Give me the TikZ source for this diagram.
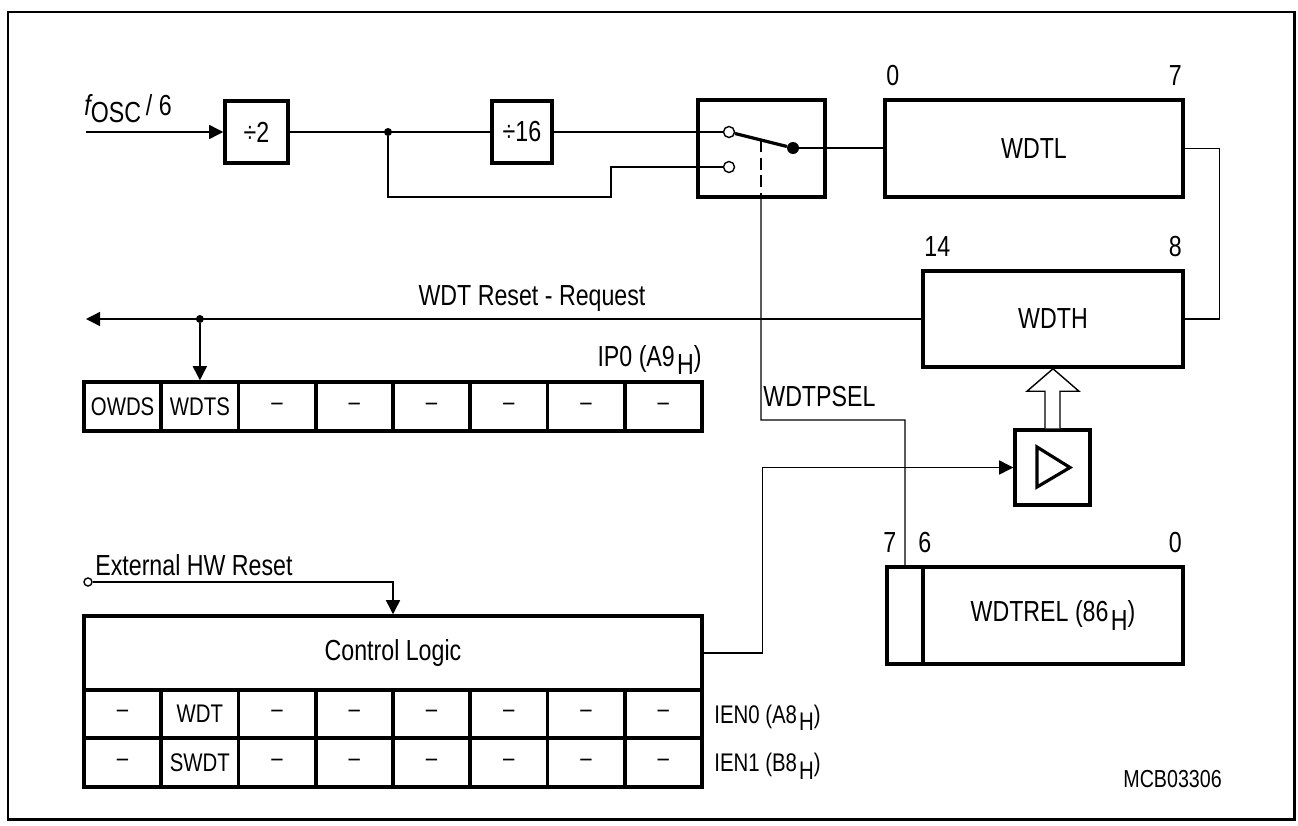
\documentclass[tikz,border=0pt]{standalone}
\usepackage{fontspec}
\setmainfont[FakeStretch=0.8]{Liberation Sans}
\usetikzlibrary{arrows.meta,calc}
\newcommand{\lowH}{\kern0.08em\raisebox{-0.3em}{H}}

\begin{document}
\begin{tikzpicture}[x=0.02cm,y=-0.02cm,
        font=\fontsize{16.5}{19}\selectfont,
        wire/.style={line width=0.8pt},
        blk/.style={draw,line width=2pt,inner sep=0pt},
        cell/.style={blk,minimum width=1.545cm,minimum height=0.98cm,font=\fontsize{14.5}{17}\selectfont},
        small/.style={font=\fontsize{14.5}{17}\selectfont},
        contact/.style={circle,draw,line width=0.8pt,fill=white,inner sep=0pt,minimum size=0.22cm},
        jdot/.style={circle,fill,inner sep=0pt,minimum size=0.16cm},
        lbl/.style={inner sep=0pt},
        >={Triangle[length=8pt,width=8pt]}]
        \useasboundingbox (0,0) rectangle (1298,825);
        \draw[line width=1.7pt] (8,12) rectangle (1294,819);

        % prescaler and switch
        \coordinate (fin) at (86,132);
        \node[lbl,anchor=base west] (fosc) at (84,115) {\itshape f\upshape\raisebox{-4.5pt}{OSC}\,/ 6};
        \node[blk,minimum width=1.26cm,minimum height=1.24cm] (div2) at (256.5,132) {÷2};
        \node[blk,minimum width=1.2cm,minimum height=1.24cm] (div16) at (522,132) {÷16};
        \node[blk,minimum width=2.54cm,minimum height=1.94cm] (sw) at (761.5,148.5) {};
        \node[jdot] (j1) at (388,132) {};
        \node[contact] (up) at (729,132) {};
        \node[contact] (lo) at (729,167) {};
        \node[jdot,minimum size=0.24cm] (piv) at (793,148) {};
        \draw[wire,->] (fin) -- (div2.west);
        \draw[wire] (div2.east) -- (div16.west);
        \draw[wire] (div16.east) -- (up);
        \draw[wire] (j1) -- ++(0,65) -| ++(223,-30) -- (lo);
        \draw[line width=1.8pt] (up) -- (piv);

        % counter registers
        \node[blk,minimum width=5.96cm,minimum height=1.94cm] (wdtl) at (1034,148.5) {WDTL};
        \node[blk,minimum width=5.2cm,minimum height=1.92cm] (wdth) at (1053,319) {WDTH};
        \node[lbl,anchor=base west] (l0) at (886,85) {0};
        \node[lbl,anchor=base east] (l7) at (1182,85) {7};
        \node[lbl,anchor=base west] (l14) at (924,256) {14};
        \node[lbl,anchor=base east] (l8) at (1182,256) {8};
        \draw[wire] (piv) -- (piv -| wdtl.west);
        \draw[wire] (wdtl.east) -- ++(35,0) |- (wdth.east);

        % reset request and IP0
        \coordinate (rqend) at (86,319);
        \foreach \t [count=\i] in {OWDS,WDTS,–,–,–,–,–,–}
            \node[cell] (ip\i) at ({84+77.25*(\i-0.5)},406.5) {\t};
        \node[jdot] (j2) at (ip2.north |- wdth.west) {};
        \draw[wire,->] (wdth.west) -- (rqend);
        \draw[wire,->] (j2) -- (ip2.north);
        \node[lbl,anchor=base] (rq) at (532,305) {WDT Reset - Request};
        \node[lbl,anchor=base east] (ip0) at (702,366) {IP0 (A9\lowH)};

        % reload register and driver
        \node[blk,minimum width=1.5cm,minimum height=1.5cm] (drv) at (1052.5,467.5) {};
        \draw[line width=1.8pt] ($(drv.center)+(-15.5,-20.5)$) -- ++(0,40) -- ($(drv.center)+(17.5,0)$) -- cycle;
        \node[blk,minimum width=0.72cm,minimum height=1.94cm] (bit7) at (905,615.5) {};
        \node[blk,minimum width=5.2cm,minimum height=1.94cm] (wdtrel) at (1053,615.5) {WDTREL (86\lowH)};
        \node[lbl,anchor=base west] (r7) at (883,552) {7};
        \node[lbl,anchor=base west] (r6) at (918,552) {6};
        \node[lbl,anchor=base east] (r0) at (1182,552) {0};
        \draw[wire,fill=white] ($(drv.north)+(-7.5,0)$) -- ++(0,-37) -- ++(-18,0) -- (wdth.south)
            -- ($(drv.north)+(26.5,-37)$) -- ++(-19,0) -- ($(drv.north)+(7.5,0)$);
        \draw[wire] ($(drv.south)+(-7,0)$) -- ($(drv.south)+(-7,0)$ |- wdtrel.north);
        \draw[wire] ($(drv.south)+(7.5,0)$) -- ($(drv.south)+(7.5,0)$ |- wdtrel.north);

        % prescaler select
        \coordinate (lv) at ($(up)!0.5!(piv)$);
        \coordinate (bend) at (761,420);
        \draw[wire,dash pattern=on 7pt off 3pt] (lv) -- (lv |- sw.south);
        \draw[wire] (lv |- sw.south) -- (bend) -| (bit7.north);
        \node[lbl,anchor=base west] (psel) at (763,406) {WDTPSEL};

        % control logic
        \node[blk,minimum width=12.36cm,minimum height=1.48cm] (ctrl) at (393,653) {Control Logic};
        \foreach \t [count=\i] in {–,WDT,–,–,–,–,–,–}
            \node[cell,minimum height=0.97cm] (ie\i) at ({84+77.25*(\i-0.5)},714) {\t};
        \foreach \t [count=\i] in {–,SWDT,–,–,–,–,–,–}
            \node[cell,minimum height=0.97cm] (is\i) at ({84+77.25*(\i-0.5)},762.5) {\t};
        \node[lbl,small,anchor=base west] (ien0) at (714,723) {IEN0 (A8\lowH)};
        \node[lbl,small,anchor=base west] (ien1) at (714,771.5) {IEN1 (B8\lowH)};
        \node[contact,minimum size=0.16cm] (ext) at (88,582) {};
        \node[lbl,anchor=base west] (hw) at (95,575) {External HW Reset};
        \draw[wire,->] (ext) -| (ctrl.north);
        \draw[wire,->] (ctrl.east) -- ++(59,0) |- (drv.west);

        \node[lbl,anchor=base west,font=\fontsize{14}{16}\selectfont] (mcb) at (1123,787) {MCB03306};
\end{tikzpicture}
\end{document}
